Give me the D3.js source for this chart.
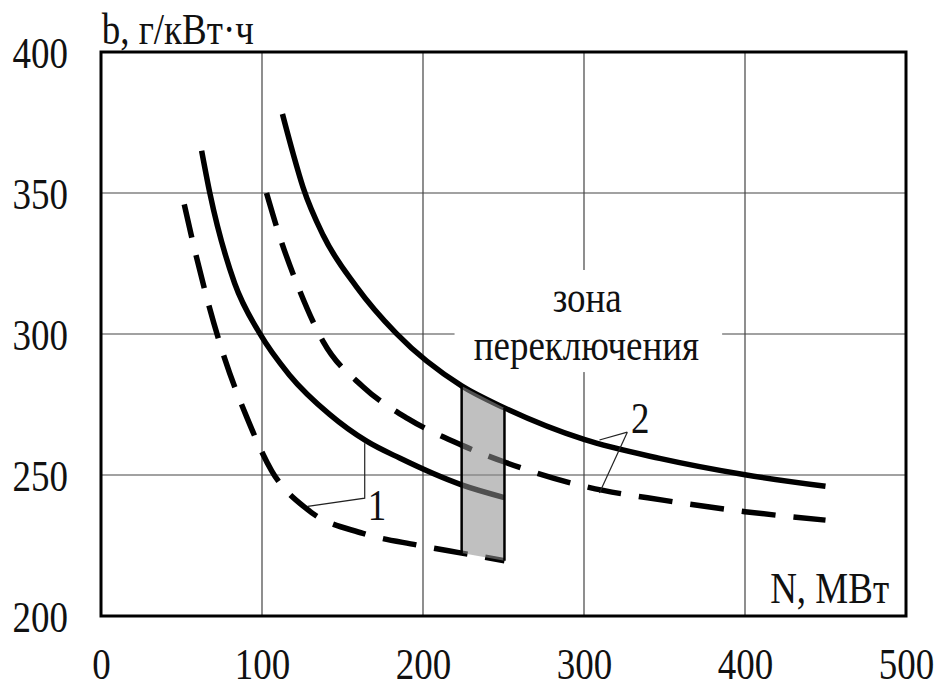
<!DOCTYPE html>
<html>
<head>
<meta charset="utf-8">
<script src="https://cdn.jsdelivr.net/npm/d3@7"></script>
<style>
  body { margin: 0; background: #fff; }
  text { font-family: 'Liberation Serif', 'Times New Roman', serif; fill: #111; }
</style>
</head>
<body>
<div id="chart"></div>
<script>
// curve data, [N (MW), b (g/kWh)]
let solid1 = [[62.5, 365], [67.6, 350], [83, 318], [98.6, 300.2], [117, 285.5], [142, 271.5], [165, 262], [185.5, 256], [224, 246.5], [250.6, 242]]
let dashed1 = [[51.7, 346], [57.3, 332], [66.6, 311], [77, 291], [90.4, 270.7], [106, 251.5], [128.6, 237.6], [162.7, 229.3], [196, 225.2], [224, 222.3], [250.6, 219.6]]
let solid2 = [[112.7, 378], [119.3, 364], [125.5, 352], [138, 335], [158.6, 316.8], [183.4, 300.2], [224, 281.6], [250.6, 273.8], [300, 262.6], [347, 255.9], [400, 250.1], [450, 246]]
let dashed2 = [[102.8, 350], [110, 336.3], [122.4, 316.8], [138, 297.3], [162.7, 281.3], [190.6, 270], [224, 260.6], [250.6, 254.6], [300, 246], [350, 241], [400, 237], [450, 234]]

// switching zone bounds
let zoneN = [224, 250.6]

let xTicks = [0, 100, 200, 300, 400, 500]
let yTicks = [200, 250, 300, 350, 400]
let xGrid = [100, 200, 300, 400]
let yGrid = [250, 300, 350]

let margin = { top: 52, left: 101, right: 31, bottom: 68 }
let width = 937 - margin.left - margin.right
let height = 684 - margin.top - margin.bottom
let stretch = 'scale(1,1.18)'

let svg = d3
  .select('#chart')
  .append('svg')
  .attr('width', 937)
  .attr('height', 684)
  .append('g')
  .attr('transform', 'translate(' + margin.left + ',' + margin.top + ')')

let xPositionScale = d3.scaleLinear().domain([0, 500]).range([0, width])
let yPositionScale = d3.scaleLinear().domain([200, 400]).range([height, 0])

let line = d3
  .line()
  .x(d => xPositionScale(d[0]))
  .y(d => yPositionScale(d[1]))
  .curve(d3.curveMonotoneX)

// grid
svg
  .selectAll('.x-grid')
  .data(xGrid)
  .enter()
  .append('line')
  .attr('class', 'x-grid')
  .attr('x1', d => xPositionScale(d))
  .attr('x2', d => xPositionScale(d))
  .attr('y1', 0)
  .attr('y2', height)
  .attr('stroke', '#444')
  .attr('stroke-width', 1.2)

svg
  .selectAll('.y-grid')
  .data(yGrid)
  .enter()
  .append('line')
  .attr('class', 'y-grid')
  .attr('x1', 0)
  .attr('x2', width)
  .attr('y1', d => yPositionScale(d))
  .attr('y2', d => yPositionScale(d))
  .attr('stroke', '#444')
  .attr('stroke-width', 1.2)

// white box behind the zone label
svg
  .append('rect')
  .attr('x', xPositionScale(219.6))
  .attr('y', yPositionScale(322.7))
  .attr('width', xPositionScale(385.8) - xPositionScale(219.6))
  .attr('height', yPositionScale(286.5) - yPositionScale(322.7))
  .attr('fill', '#fff')

// axes
let xAxis = d3.axisBottom(xPositionScale).tickValues(xTicks).tickSize(0)
svg
  .append('g')
  .attr('class', 'axis x-axis')
  .attr('transform', 'translate(0,' + height + ')')
  .call(xAxis)
  .call(g => g.select('.domain').remove())
  .selectAll('text')
  .attr('y', 0)
  .attr('dy', 0)
  .attr('font-size', 37)
  .attr('transform', 'translate(0,63) ' + stretch)

let yAxis = d3.axisLeft(yPositionScale).tickValues(yTicks).tickSize(0)
svg
  .append('g')
  .attr('class', 'axis y-axis')
  .call(yAxis)
  .call(g => g.select('.domain').remove())
  .selectAll('text')
  .attr('x', 0)
  .attr('dy', 0)
  .attr('font-size', 37)
  .attr('text-anchor', 'end')
  .attr('transform', 'translate(-33,15) ' + stretch)

// curves
let curves = [
  { values: solid1, dashed: false },
  { values: dashed1, dashed: true },
  { values: solid2, dashed: false },
  { values: dashed2, dashed: true }
]

svg
  .selectAll('.b-line')
  .data(curves)
  .enter()
  .append('path')
  .attr('class', 'b-line')
  .attr('d', d => line(d.values))
  .attr('fill', 'none')
  .attr('stroke', '#000')
  .attr('stroke-width', 5.5)
  .attr('stroke-dasharray', d => (d.dashed ? '34,18' : null))

// switching zone: between solid curve 2 (top) and dashed curve 1 (bottom)
function valueAt(values, n) {
  let i = d3.bisector(d => d[0]).left(values, n)
  let a = values[Math.max(i - 1, 0)]
  let b = values[Math.min(i, values.length - 1)]
  if (a[0] === b[0]) return a[1]
  return a[1] + ((b[1] - a[1]) * (n - a[0])) / (b[0] - a[0])
}
let zoneTop = solid2.filter(d => d[0] >= zoneN[0] && d[0] <= zoneN[1])
let zoneBottom = dashed1.filter(d => d[0] >= zoneN[0] && d[0] <= zoneN[1]).reverse()
let zonePoly = zoneTop.concat(zoneBottom)

svg
  .append('path')
  .attr('d', d3.line().x(d => xPositionScale(d[0])).y(d => yPositionScale(d[1]))(zonePoly) + 'Z')
  .attr('fill', '#8f8f8f')
  .attr('fill-opacity', 0.56)

svg
  .selectAll('.zone-edge')
  .data(zoneN)
  .enter()
  .append('line')
  .attr('class', 'zone-edge')
  .attr('x1', d => xPositionScale(d))
  .attr('x2', d => xPositionScale(d))
  .attr('y1', d => yPositionScale(valueAt(solid2, d)))
  .attr('y2', d => yPositionScale(valueAt(dashed1, d)))
  .attr('stroke', '#000')
  .attr('stroke-width', 2.5)

// leader lines for curve labels
let leader1 = [[163.8, 261.3], [163.8, 241.8], [128.4, 238.9]]
let leader2a = [[309.6, 262.4], [326.9, 265.2]]
let leader2b = [[309.6, 243.6], [326.9, 265.2]]
let straight = d3.line().x(d => xPositionScale(d[0])).y(d => yPositionScale(d[1]))

svg
  .selectAll('.leader')
  .data([leader1, leader2a, leader2b])
  .enter()
  .append('path')
  .attr('class', 'leader')
  .attr('d', d => straight(d))
  .attr('fill', 'none')
  .attr('stroke', '#222')
  .attr('stroke-width', 1.2)

// frame
svg
  .append('rect')
  .attr('width', width)
  .attr('height', height)
  .attr('fill', 'none')
  .attr('stroke', '#000')
  .attr('stroke-width', 3)

// texts
function label(txt, n, b, anchor) {
  svg
    .append('text')
    .attr('transform', 'translate(' + xPositionScale(n) + ',' + yPositionScale(b) + ') ' + stretch)
    .attr('text-anchor', anchor)
    .attr('font-size', 37)
    .text(txt)
}

label('b, г/кВт·ч', 0.4, 402.8, 'start')
label('N, МВт', 489.5, 204.6, 'end')
label('зона', 302, 307.8, 'middle')
label('переключения', 301.5, 290.8, 'middle')
label('1', 171.5, 234, 'middle')
label('2', 335, 264.9, 'middle')
</script>
</body>
</html>
